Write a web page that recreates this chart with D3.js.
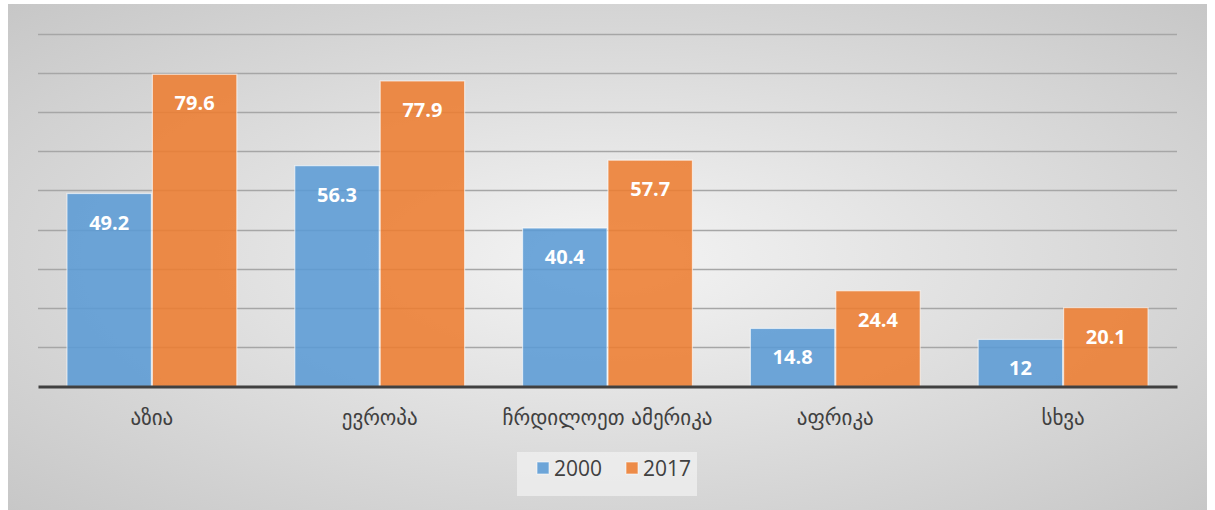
<!DOCTYPE html>
<html><head><meta charset="utf-8">
<script src="https://cdn.jsdelivr.net/npm/d3@7"></script>
<style>html,body{margin:0;padding:0;background:#fff;}svg{display:block;}</style>
</head><body>
<svg id="chart" width="1215" height="510"></svg>
<script>
const categories = ["აზია", "ევროპა", "ჩრდილოეთ ამერიკა", "აფრიკა", "სხვა"];
const seriesNames = ["2000", "2017"];
const values2000 = [49.2, 56.3, 40.4, 14.8, 12];
const values2017 = [79.6, 77.9, 57.7, 24.4, 20.1];
const yTicks = [0, 10, 20, 30, 40, 50, 60, 70, 80, 90];
const colors = ["#5b9bd5", "#ed7d31"];

const svg = d3.select("#chart");
const defs = svg.append("defs");
const grad = defs.append("radialGradient").attr("id", "bg")
  .attr("cx", "50%").attr("cy", "50%").attr("r", "75%");
grad.append("stop").attr("offset", "0%").attr("stop-color", "#f4f4f4");
grad.append("stop").attr("offset", "100%").attr("stop-color", "#c4c4c4");

svg.append("rect").attr("x", 8).attr("y", 4).attr("width", 1199).attr("height", 510)
  .attr("fill", "url(#bg)");

const left = 38, right = 1177;
const y = d3.scaleLinear().domain([0, 90]).range([386.5, 33.5]);
const x0 = d3.scaleBand().domain(categories).range([left, right]).paddingInner(0.25).paddingOuter(0.125);
const x1 = d3.scaleBand().domain(seriesNames).range([0, x0.bandwidth()]).padding(0);

// gridlines
svg.append("g").selectAll("line").data(yTicks.filter(d => d > 0)).join("line")
  .attr("x1", left).attr("x2", right)
  .attr("y1", d => Math.round(y(d)) + 0.5).attr("y2", d => Math.round(y(d)) + 0.5)
  .attr("stroke", "#a6a6a6").attr("stroke-width", 1.3);

const data = categories.map((c, i) => ({cat: c, vals: [values2000[i], values2017[i]]}));

const groups = svg.append("g").selectAll("g").data(data).join("g")
  .attr("transform", d => `translate(${x0(d.cat)},0)`);

groups.selectAll("rect").data(d => d.vals.map((v, j) => ({v, s: seriesNames[j], j}))).join("rect")
  .attr("x", d => x1(d.s) + 0.5)
  .attr("width", x1.bandwidth() - 1)
  .attr("y", d => y(d.v))
  .attr("height", d => y(0) - y(d.v))
  .attr("fill", d => colors[d.j])
  .attr("fill-opacity", 0.88)
  .attr("stroke", "#ffffff").attr("stroke-opacity", 0.6).attr("stroke-width", 1.2);

groups.selectAll("text").data(d => d.vals.map((v, j) => ({v, s: seriesNames[j], j}))).join("text")
  .attr("x", d => x1(d.s) + x1.bandwidth() / 2)
  .attr("y", d => y(d.v) + 36)
  .attr("text-anchor", "middle")
  .attr("font-family", "'Open Sans', 'DejaVu Sans', sans-serif")
  .attr("font-weight", "bold")
  .attr("font-size", 20)
  .attr("fill", "#ffffff")
  .text(d => d.v);

// baseline axis
const xAxis = d3.axisBottom(x0).tickSize(0).tickPadding(24);
const ax = svg.append("g").attr("transform", `translate(0,${y(0)})`).call(xAxis);
ax.select(".domain").attr("stroke", "#404040").attr("stroke-width", 3.2);
ax.selectAll("text").attr("font-family", "'DejaVu Sans', sans-serif").attr("font-size", 21)
  .attr("fill", "#404040");

// legend
const lg = svg.append("g");
lg.append("rect").attr("x", 517).attr("y", 452).attr("width", 180).attr("height", 44)
  .attr("fill", "#f2f2f2").attr("fill-opacity", 0.7);
const items = lg.selectAll("g").data(seriesNames).join("g")
  .attr("transform", (d, i) => `translate(${537 + i * 89},0)`);
items.append("rect").attr("x", 0).attr("y", 462).attr("width", 12).attr("height", 12)
  .attr("fill", (d, i) => colors[i]).attr("fill-opacity", 0.88)
  .attr("stroke", "#fff").attr("stroke-opacity", 0.6);
items.append("text").attr("x", 17).attr("y", 476)
  .attr("font-family", "'Open Sans', 'DejaVu Sans', sans-serif").attr("font-size", 21)
  .attr("fill", "#404040").text(d => d);
</script>
</body></html>
